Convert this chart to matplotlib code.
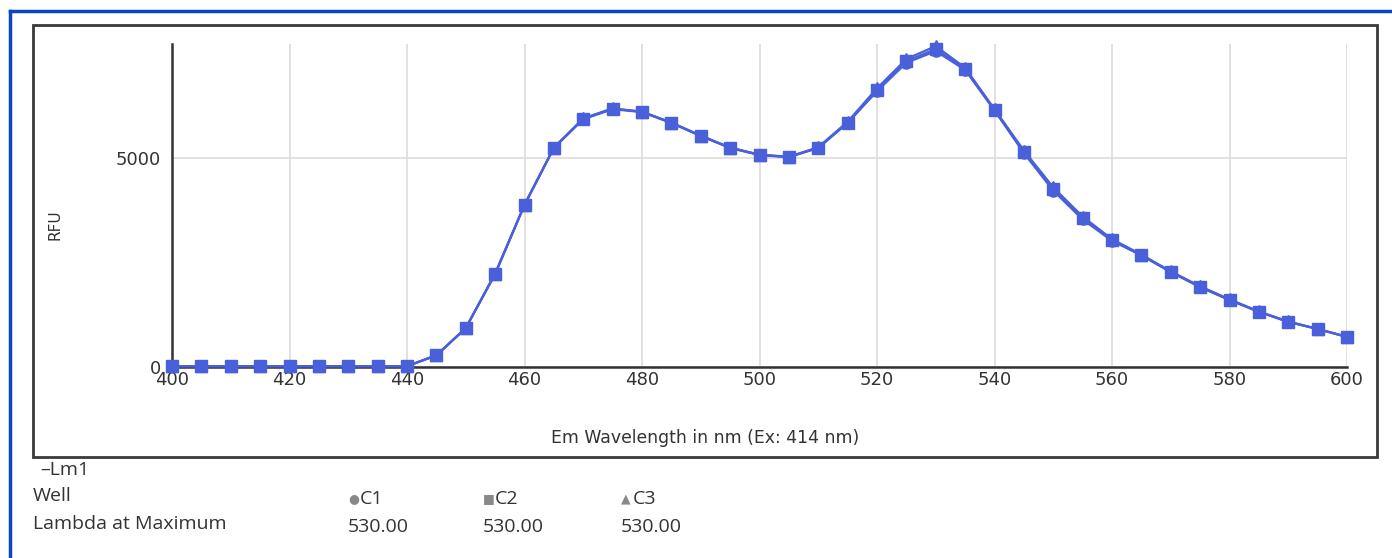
import numpy as np
import matplotlib
matplotlib.use("Agg")
import matplotlib.pyplot as plt
from matplotlib.patches import Rectangle
from matplotlib.lines import Line2D

# emission wavelengths (nm)
wavelength = [400, 405, 410, 415, 420, 425, 430, 435, 440, 445, 450, 455, 460, 465,
              470, 475, 480, 485, 490, 495, 500, 505, 510, 515, 520, 525, 530, 535,
              540, 545, 550, 555, 560, 565, 570, 575, 580, 585, 590, 595, 600]

# RFU per well
rfu_c1 = [20, 20, 20, 20, 20, 20, 20, 20, 20, 280, 930, 2230, 3880, 5240,
          5930, 6170, 6100, 5840, 5530, 5240, 5070, 5020, 5240, 5840, 6600, 7280, 7560, 7110,
          6140, 5120, 4220, 3530, 3020, 2670, 2270, 1910, 1600, 1320, 1080, 910, 720]
rfu_c2 = [20, 20, 20, 20, 20, 20, 20, 20, 20, 280, 930, 2230, 3880, 5250,
          5940, 6180, 6110, 5840, 5530, 5250, 5080, 5030, 5250, 5850, 6630, 7320, 7610, 7130,
          6150, 5150, 4260, 3570, 3040, 2680, 2280, 1920, 1610, 1320, 1080, 910, 720]
rfu_c3 = [20, 20, 20, 20, 20, 20, 20, 20, 20, 280, 930, 2230, 3880, 5250,
          5950, 6190, 6110, 5850, 5540, 5250, 5080, 5030, 5260, 5870, 6670, 7370, 7680, 7160,
          6170, 5180, 4300, 3600, 3060, 2690, 2290, 1930, 1620, 1330, 1090, 910, 720]

wells = ["C1", "C2", "C3"]
lambda_max = ["530.00", "530.00", "530.00"]

W, H = 1392, 558
fig = plt.figure(figsize=(W / 100, H / 100), dpi=100)

def fx(px):
    return px / W

def fy(py):
    return 1 - py / H

# outer blue frame and inner black box
fig.add_artist(Line2D([fx(10), fx(10)], [fy(11), 0], color="#0a47c2", lw=2.5))
fig.add_artist(Line2D([fx(10), 1], [fy(11), fy(11)], color="#0a47c2", lw=2.5))
fig.add_artist(Rectangle((fx(33), fy(457)), fx(1377) - fx(33), fy(25) - fy(457),
                         fill=False, edgecolor="#3a3a3a", lw=2))

ax = fig.add_axes([fx(172), fy(367), fx(1347) - fx(172), fy(44) - fy(367)])

col = "#4a5fda"
ax.plot(wavelength, rfu_c1, color=col, lw=1.6, marker="o", ms=8, clip_on=False, zorder=3)
ax.plot(wavelength, rfu_c2, color=col, lw=1.6, marker="s", ms=8, clip_on=False, zorder=3)
ax.plot(wavelength, rfu_c3, color=col, lw=1.6, marker="^", ms=8, clip_on=False, zorder=3)

ax.set_xlim(400, 600)
ax.set_ylim(0, 7730)
ax.set_xticks(np.arange(400, 601, 20))
ax.set_yticks([0, 5000])
ax.grid(True, color="#dcdcdc", lw=1.2)
ax.set_axisbelow(True)
for s in ["top", "right"]:
    ax.spines[s].set_visible(False)
ax.spines["left"].set_color("#333333")
ax.spines["bottom"].set_color("#333333")
ax.spines["left"].set_linewidth(1.8)
ax.spines["bottom"].set_linewidth(1.8)
ax.tick_params(length=0, labelsize=13, labelcolor="#333333")
ax.tick_params(axis="x", pad=3)
ax.tick_params(axis="y", pad=8)

fig.text(fx(705), fy(438), "Em Wavelength in nm (Ex: 414 nm)", ha="center", va="center",
         fontsize=12.4, color="#333333")
fig.text(fx(55), fy(225), "RFU", ha="center", va="center", rotation=90,
         fontsize=11, color="#333333")

# table below the chart
tc = "#333333"
tf = ["Open Sans", "DejaVu Sans"]
fs = 14
fig.text(fx(40), fy(470), "\u2013Lm1", fontsize=fs, color=tc, va="center", family=tf)
fig.text(fx(33), fy(496), "Well", fontsize=fs, color=tc, va="center", family=tf)
fig.text(fx(33), fy(524), "Lambda at Maximum", fontsize=fs, color=tc, va="center", family=tf)
sym = ["\u25cf", "\u25a0", "\u25b2"]
xs = [348, 483, 621]
for i in range(3):
    fig.text(fx(xs[i]), fy(499), sym[i], fontsize=9, color="#888888", va="center")
    fig.text(fx(xs[i] + 12), fy(499), wells[i], fontsize=fs, color=tc, va="center", family=tf)
    fig.text(fx(xs[i]), fy(527), lambda_max[i], fontsize=fs, color=tc, va="center", family=tf)

fig.savefig("out.png", dpi=100)
